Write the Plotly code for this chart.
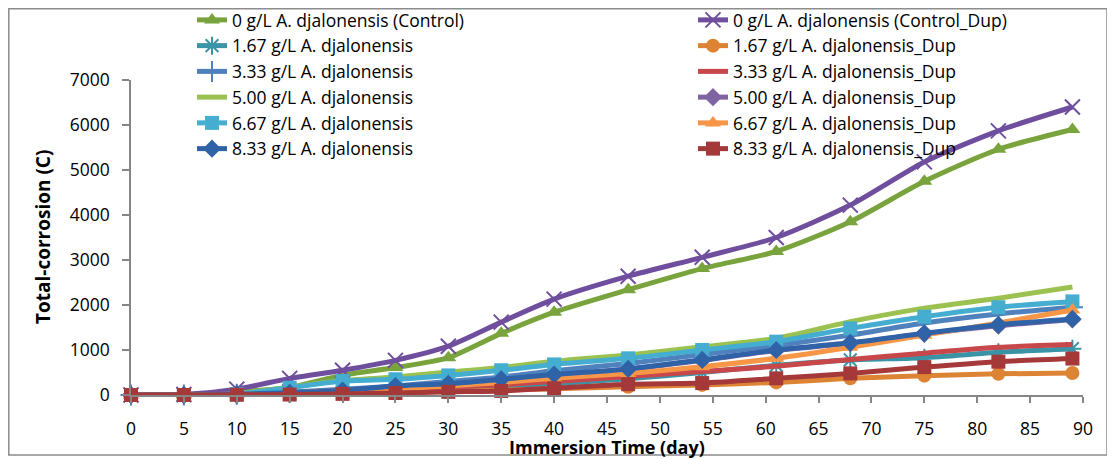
import plotly.graph_objects as go

# ---------------- data ----------------
days = [0, 5, 10, 15, 20, 25, 30, 35, 40, 47, 54, 61, 68, 75, 82, 89]

control      = [0, 5, 70, 170, 440, 610, 830, 1370, 1840, 2340, 2810, 3190, 3850, 4750, 5460, 5900]
control_dup  = [0, 10, 130, 370, 550, 770, 1085, 1620, 2130, 2640, 3060, 3500, 4220, 5180, 5870, 6400]
c167         = [0, 0, 10, 30, 60, 90, 130, 180, 250, 360, 500, 660, 780, 830, 950, 1030]
c167_dup     = [0, 0, 5, 20, 35, 55, 80, 105, 140, 185, 225, 280, 370, 430, 470, 490]
c333         = [0, 0, 15, 60, 130, 200, 300, 400, 540, 700, 900, 1100, 1330, 1600, 1800, 1950]
c333_dup     = [0, 0, 15, 40, 80, 120, 170, 230, 300, 410, 520, 640, 790, 930, 1060, 1120]
c500         = [0, 0, 30, 170, 320, 400, 510, 610, 750, 890, 1070, 1260, 1630, 1930, 2150, 2400]
c500_dup     = [0, 0, 15, 50, 100, 190, 240, 340, 440, 570, 770, 990, 1150, 1360, 1540, 1680]
c667         = [0, 0, 20, 160, 310, 350, 435, 550, 680, 815, 1000, 1185, 1480, 1740, 1950, 2080]
c667_dup     = [0, 0, 10, 40, 90, 140, 200, 280, 370, 480, 630, 815, 1060, 1330, 1600, 1890]
c833         = [0, 0, 15, 50, 100, 200, 250, 350, 455, 580, 780, 1000, 1160, 1370, 1560, 1690]
c833_dup     = [0, 0, 5, 10, 25, 45, 70, 90, 150, 240, 265, 370, 480, 620, 740, 810]

x_ticks = [0, 5, 10, 15, 20, 25, 30, 35, 40, 45, 50, 55, 60, 65, 70, 75, 80, 85, 90]
y_ticks = [0, 1000, 2000, 3000, 4000, 5000, 6000, 7000]

x_title = "Immersion Time (day)"
y_title = "Total-corrosion (C)"

# (name, values, color, symbol, marker line color, legend)
series = [
    ("0 g/L A. djalonensis (Control)", control, "#79A33D", "triangle-up", None, "legend"),
    ("0 g/L A. djalonensis (Control_Dup)", control_dup, "#6F4E9E", "x-thin-open", "#4A3766", "legend2"),
    ("1.67 g/L A. djalonensis", c167, "#3B93A6", "asterisk-open", "#2E7C8E", "legend"),
    ("1.67 g/L A. djalonensis_Dup", c167_dup, "#DD8434", "circle", None, "legend2"),
    ("3.33 g/L A. djalonensis", c333, "#4F81BD", "cross-thin-open", "#4F81BD", "legend"),
    ("3.33 g/L A. djalonensis_Dup", c333_dup, "#C8474A", None, None, "legend2"),
    ("5.00 g/L A. djalonensis", c500, "#9BC250", None, None, "legend"),
    ("5.00 g/L A. djalonensis_Dup", c500_dup, "#8064A2", "diamond", None, "legend2"),
    ("6.67 g/L A. djalonensis", c667, "#45ADCF", "square", None, "legend"),
    ("6.67 g/L A. djalonensis_Dup", c667_dup, "#F79646", "triangle-up", None, "legend2"),
    ("8.33 g/L A. djalonensis", c833, "#2F62A6", "diamond", None, "legend"),
    ("8.33 g/L A. djalonensis_Dup", c833_dup, "#A5393A", "square", None, "legend2"),
]

FONT = "'Open Sans', sans-serif"

fig = go.Figure()
for name, vals, color, symbol, mline, leg in series:
    if symbol is None:
        mode = "lines"
        marker = None
    else:
        mode = "lines+markers"
        if mline is not None:
            marker = dict(symbol=symbol, size=15, color=color,
                          line=dict(color=mline, width=2))
        else:
            marker = dict(symbol=symbol, size=14, color=color,
                          line=dict(width=0))
    fig.add_trace(go.Scatter(
        x=days, y=vals, name=name, mode=mode,
        line=dict(color=color, width=5, shape="spline", smoothing=0.7),
        marker=marker, cliponaxis=False, legend=leg,
    ))

# page body adds an 8px offset; figure coords = screen coords - 8
OFF = 8
W, H = 1107, 451
L, T = 131 - OFF, 80 - OFF
R = W - (1083 - OFF)
B = H - (395 - OFF)
pw, ph = W - L - R, H - T - B

def sx(px):
    """screen x pixel -> paper x"""
    return (px - OFF - L) / pw

def sy(py):
    """screen y pixel -> paper y"""
    return (H - B - (py - OFF)) / ph

fig.update_layout(
    width=W, height=H,
    margin=dict(l=L, r=R, t=T, b=B, pad=0, autoexpand=False),
    paper_bgcolor="white", plot_bgcolor="white",
    font=dict(family=FONT, size=17.5, color="#000000"),
    showlegend=True,
    legend=dict(x=sx(192), y=sy(2), xanchor="left", yanchor="top",
                orientation="v", bgcolor="rgba(0,0,0,0)", font=dict(size=17.5),
                traceorder="normal"),
    legend2=dict(x=sx(693), y=sy(2), xanchor="left", yanchor="top",
                 orientation="v", bgcolor="rgba(0,0,0,0)", font=dict(size=17.5),
                 traceorder="normal"),
    xaxis=dict(range=[0, 90], tickvals=x_ticks, ticktext=[str(v) for v in x_ticks],
               showgrid=False, zeroline=False, showline=True, linecolor="#868686",
               linewidth=2, ticks="outside", ticklen=6, tickcolor="#868686", tickwidth=1.5,
               ticklabelstandoff=11, automargin=False),
    yaxis=dict(range=[0, 7000], tickvals=y_ticks, ticktext=[str(v) for v in y_ticks],
               showgrid=False, zeroline=False, showline=True, linecolor="#868686",
               linewidth=1.5, ticks="outside", ticklen=7, tickcolor="#868686", tickwidth=1.5,
               ticklabelstandoff=9, automargin=False),
    annotations=[
        dict(text="<b>" + x_title + "</b>", xref="paper", yref="paper",
             x=sx(607), y=sy(447), xanchor="center", yanchor="middle",
             showarrow=False, font=dict(size=18)),
        dict(text="<b>" + y_title + "</b>", xref="paper", yref="paper",
             x=sx(43), y=sy(237), xanchor="center", yanchor="middle",
             textangle=-90, showarrow=False, font=dict(size=19)),
    ],
    shapes=[dict(type="rect", xref="paper", yref="paper",
                 x0=sx(8.8), x1=sx(1107),
                 y0=sy(455), y1=sy(8.8),
                 line=dict(color="#8C8C8C", width=1.5), fillcolor="rgba(0,0,0,0)",
                 layer="below")],
)

fig.write_html("out.html")
